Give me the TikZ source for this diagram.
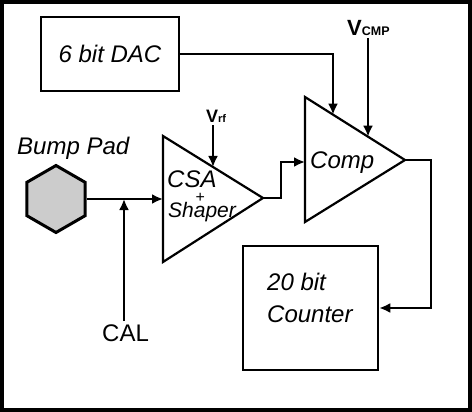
\documentclass[tikz,border=0pt]{standalone}
\usepackage{fontspec}
\setmainfont{Liberation Sans}
\usetikzlibrary{shapes.geometric,arrows.meta,calc}

\begin{document}
\begin{tikzpicture}
    \def\dx{10pt}
    \def\dy{10pt}

    \tikzstyle{block}=[draw=black,line width=2.5pt,inner sep=0pt]
    \tikzstyle{lbl}=[font=\itshape\fontsize{24}{29}\selectfont,inner sep=0pt]
    \tikzstyle{pad}=[regular polygon,regular polygon sides=6,shape border rotate=90,draw=black,fill=black!20,line width=3pt,minimum size=67pt,inner sep=0pt]
    \tikzstyle{amp}=[draw=black,line width=2.2pt,line join=miter]

    % frame
    \useasboundingbox (0,0) rectangle (47.2*\dx,-41.2*\dy);
    \draw[line width=4pt] (0.2*\dx,-0.2*\dy) rectangle (47*\dx,-41*\dy);

    \node[block,minimum width=138pt,minimum height=74pt,lbl] (dac) at (11*\dx,-5.4*\dy) {6 bit DAC};
    \node[block,minimum width=135pt,minimum height=124pt] (counter) at (31.05*\dx,-30.8*\dy) {};
    \node[lbl,align=left,anchor=base west] (countertext) at (26.7*\dx,-32.2*\dy) {20 bit\\[3pt]Counter};
    \node[pad] (pad) at (5.6*\dx,-19.9*\dy) {};
    \node[lbl,anchor=base west] (padlabel) at (1.7*\dx,-15.5*\dy) {Bump Pad};
    \node[font=\fontsize{24}{29}\selectfont,inner sep=3pt,anchor=base west] (cal) at (9.9*\dx,-34.1*\dy) {CAL};

    % amplifiers
    \coordinate (csa top) at (16.3*\dx,-13.6*\dy);
    \coordinate (csa bot) at (16.3*\dx,-26.2*\dy);
    \coordinate (csa out) at (26.3*\dx,-19.8*\dy);
    \coordinate (cmp top) at (30.5*\dx,-9.7*\dy);
    \coordinate (cmp bot) at (30.5*\dx,-22.2*\dy);
    \coordinate (cmp out) at (40.5*\dx,-16*\dy);
    \draw[amp] (csa top) -- (csa out) -- (csa bot) -- cycle;
    \draw[amp] (cmp top) -- (cmp out) -- (cmp bot) -- cycle;
    \node[lbl,anchor=base west] (csa) at (16.7*\dx,-18.7*\dy) {CSA};
    \node[lbl,font=\itshape\fontsize{16}{19}\selectfont] (plus) at (20*\dx,-19.8*\dy) {+};
    \node[lbl,font=\itshape\fontsize{21}{25}\selectfont,anchor=base west] (shaper) at (16.8*\dx,-21.8*\dy) {Shaper};
    \node[lbl,anchor=base west] (comp) at (31*\dx,-16.8*\dy) {Comp};

    \node[font=\bfseries\fontsize{18}{22}\selectfont,inner sep=2pt,anchor=base west] (vrf) at (20.4*\dx,-12.3*\dy) {V{\fontsize{11}{13}\selectfont rf}};
    \node[font=\bfseries\fontsize{22}{26}\selectfont,inner sep=2pt,anchor=base west] (vcmp) at (34.5*\dx,-3.6*\dy) {V{\fontsize{12.5}{15}\selectfont CMP}};

    \coordinate (vrf in) at ($(csa top)!0.5!(csa out)$);
    \coordinate (dac in) at ($(cmp top)!0.28!(cmp out)$);
    \coordinate (vcmp in) at ($(cmp top)!0.63!(cmp out)$);
    \coordinate (cal in) at (12.4*\dx,-19.9*\dy);

    \pgfsetarrowsend{Latex[length=11pt,width=10pt]}
    \tikzstyle{fwd} = [draw=black, line width=2.2pt]

          \draw [fwd] (pad.east) -- (pad.east -| csa top);
          \draw [fwd] (cal in |- cal.north) -- (cal in);
          \draw [fwd] (vrf.south -| vrf in) -- (vrf in);
          \draw [fwd] (dac.east) -| (dac in);
          \draw [fwd] (vcmp.south -| vcmp in) -- (vcmp in);
          \draw [fwd] (csa out) -- ++(1.8*\dx,0) |- (30.5*\dx,-16.2*\dy);
          \draw [fwd] (cmp out) -- ++(2.6*\dx,0) |- (counter.east);

  \end{tikzpicture}
\end{document}
